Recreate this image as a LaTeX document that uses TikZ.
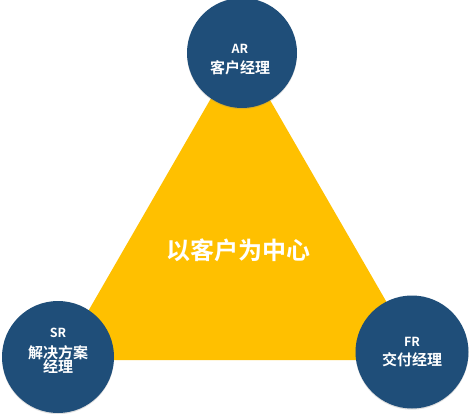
\documentclass[tikz,border=0pt]{standalone}
\usepackage{fontspec}
\newfontfamily\cjk{Noto Sans CJK SC}[BoldFont={Noto Sans CJK SC Bold}]
\usetikzlibrary{shadows}
\definecolor{roleblue}{HTML}{1F4E79}
\definecolor{coreyellow}{HTML}{FFC000}
\begin{document}
\begin{tikzpicture}[x=1pt,y=-1pt,
  role/.style={circle,fill=roleblue,minimum size=#1,inner sep=0pt,
    drop shadow={opacity=0.25,shadow xshift=0pt,shadow yshift=-1.2pt}},
  abbr/.style={text=white,font=\cjk\bfseries\fontsize{12.5}{13}\selectfont},
  rname/.style={text=white,align=center,font=\cjk\bfseries\fontsize{15}{16}\selectfont},
  core/.style={text=white,font=\cjk\bfseries\fontsize{24}{26}\selectfont}]
\useasboundingbox (0,0) rectangle (474,414);
\fill[white] (0,0) rectangle (474,414);
\coordinate (apex) at (240,48);
\coordinate (bl) at (60,360);
\coordinate (br) at (420,360);
\fill[coreyellow] (apex) -- (bl) -- (br) -- cycle;
\node[core] (center) at (238,250) {以客户为中心};
\node[role=110pt] (ar) at (242,53) {};
\node[role=112pt] (sr) at (58,357) {};
\node[role=113pt] (fr) at (412,352) {};
\node[abbr] (arT) at (240,49) {AR};
\node[rname] (arN) at (240,68) {客户经理};
\node[abbr] (srT) at (58,333) {SR};
\node[rname] (srN) at (58,360) {解决方案\\[-2pt]经理};
\node[abbr] (frT) at (412,342) {FR};
\node[rname] (frN) at (412,360) {交付经理};
\end{tikzpicture}
\end{document}
